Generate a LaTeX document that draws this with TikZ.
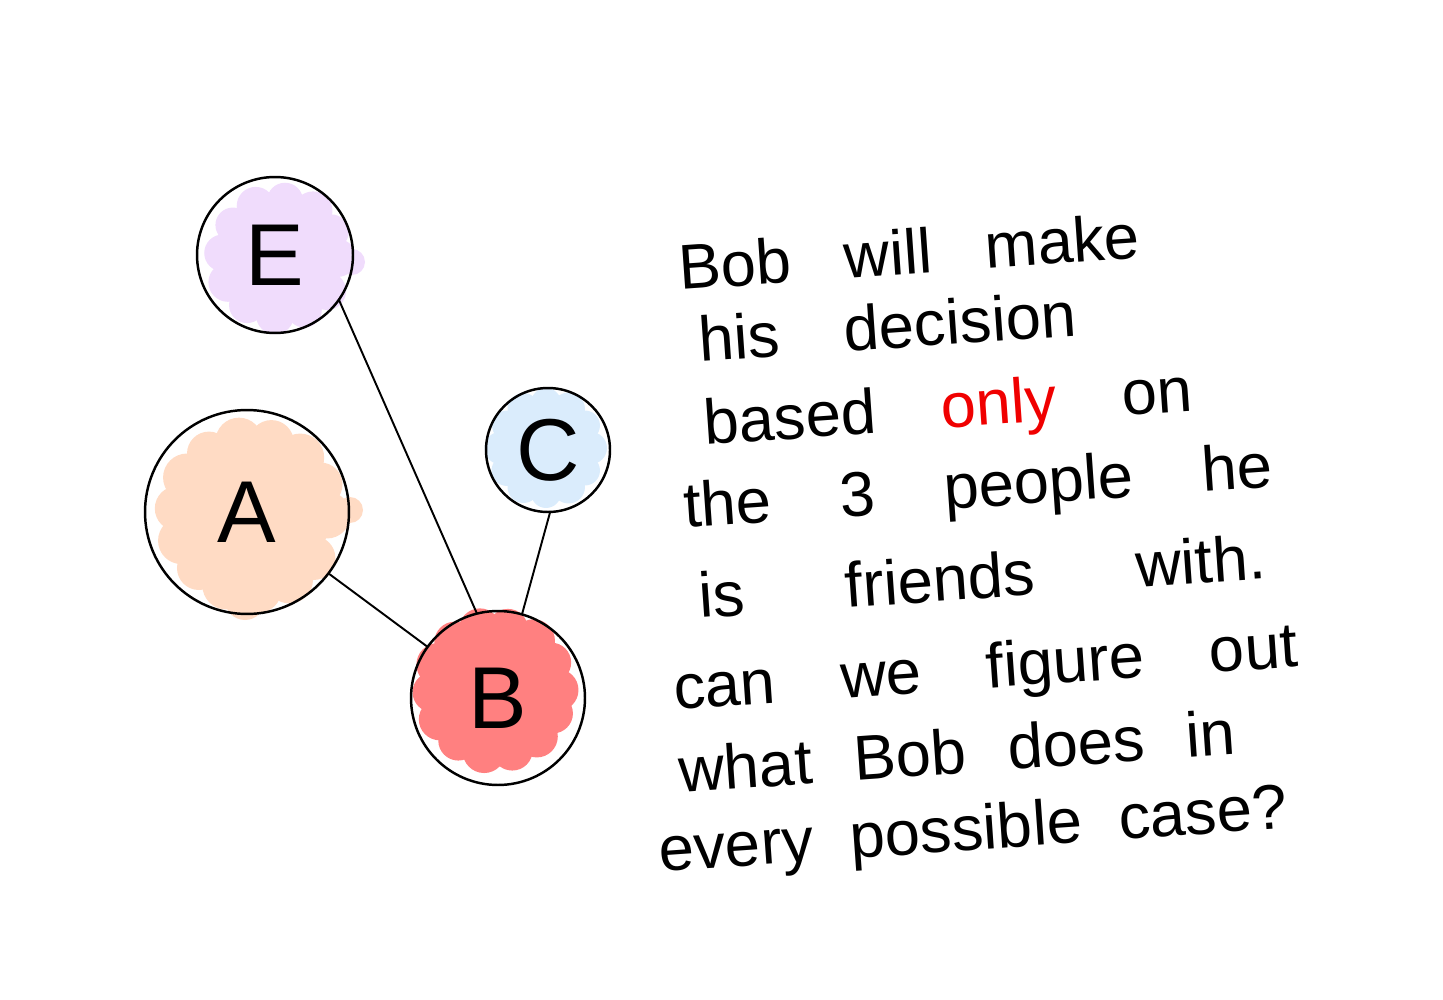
\documentclass[tikz,border=0pt]{standalone}
\usepackage{fontspec}
\setmainfont{Liberation Sans}
\definecolor{purpfill}{HTML}{F0DCFC}
\definecolor{peachfill}{HTML}{FFDBC4}
\definecolor{bluefill}{HTML}{DAECFC}
\definecolor{redfill}{HTML}{FF8080}
\definecolor{onlyred}{HTML}{F00000}
\begin{document}
\begin{tikzpicture}[x=0.02cm,y=-0.02cm,
  bub/.style={circle,draw=black,line width=1.4pt,inner sep=0pt,outer sep=0pt,
    font=\fontsize{50}{60}\selectfont},
  edge/.style={line width=1.1pt},
  txt/.style={anchor=base west,rotate=4,inner sep=0pt,
    font=\fontsize{36}{42}\selectfont}]
\useasboundingbox (0,0) rectangle (1443,1000);
% colour blobs (scalloped)
\fill[purpfill] (280,258) circle (1.2cm);
\foreach \a/\r in {0/0.38,27/0.35,55/0.39,85/0.36,115/0.38,145/0.35,175/0.37,205/0.39,235/0.36,265/0.38,295/0.35,325/0.38}
  \fill[purpfill] (280,258) ++(\a:1.15cm) circle (\r cm);
\fill[purpfill] (352,262) circle (0.26cm);
\fill[peachfill] (252,515) circle (1.55cm);
\foreach \a/\r in {0/0.47,24/0.44,50/0.48,75/0.45,100/0.47,125/0.44,150/0.48,175/0.45,200/0.47,225/0.44,250/0.48,275/0.46,300/0.47,325/0.44}
  \fill[peachfill] (252,515) ++(\a:1.5cm) circle (\r cm);
\fill[peachfill] (350,510) circle (0.26cm);
\fill[peachfill] (245,600) circle (0.4cm);
\fill[bluefill] (546,448) circle (0.95cm);
\foreach \a/\r in {0/0.32,30/0.3,60/0.33,90/0.3,120/0.32,150/0.3,180/0.33,210/0.31,240/0.32,270/0.3,300/0.33,330/0.3}
  \fill[bluefill] (546,448) ++(\a:0.9cm) circle (\r cm);
\fill[redfill] (495,690) circle (1.3cm);
\foreach \a/\r in {0/0.42,26/0.4,52/0.43,78/0.4,104/0.42,130/0.41,156/0.43,182/0.4,208/0.42,234/0.4,260/0.43,286/0.41,312/0.42,338/0.4}
  \fill[redfill] (495,690) ++(\a:1.25cm) circle (\r cm);
% nodes
\node[bub,minimum size=3.12cm] (E) at (275,255) {E};
\node[bub,minimum size=4.08cm] (A) at (247,512) {A};
\node[bub,minimum size=2.48cm] (C) at (548,450) {C};
\node[bub,minimum size=3.48cm] (B) at (498,698) {B};
% edges
\draw[edge] (E.-35) -- (B.104);
\draw[edge] (A.-37) -- (B.144);
\draw[edge] (C.-88) -- (B.74);
% text
\node[txt] (t1) at (680,290) {\makebox[9.24cm][s]{Bob will make}};
\node[txt] (t2) at (700,362) {\makebox[7.56cm][s]{his decision}};
\node[txt] (t3) at (705,445) {\makebox[9.8cm][s]{based {\color{onlyred}only} on}};
\node[txt] (t4) at (685,528) {\makebox[11.8cm][s]{the 3 people he}};
\node[txt] (t5) at (700,618) {\makebox[11.36cm][s]{is friends with.}};
\node[txt] (t6) at (675,710) {\makebox[12.5cm][s]{can we figure out}};
\node[txt] (t7) at (680,793) {\makebox[11.16cm][s]{what Bob does in}};
\node[txt] (t8) at (660,872) {\makebox[12.6cm][s]{every possible case?}};
\end{tikzpicture}
\end{document}
